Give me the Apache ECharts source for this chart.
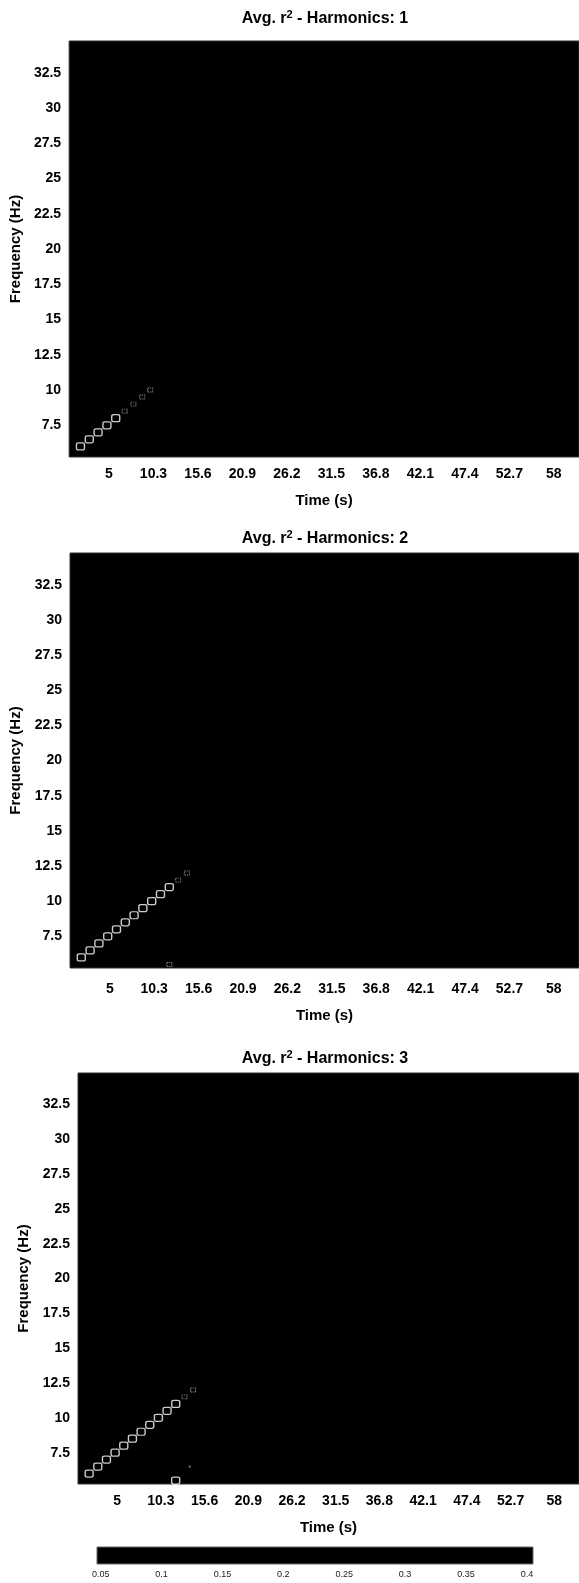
<!DOCTYPE html>
<html>
<head>
<meta charset="utf-8">
<title>Avg. r2 - Harmonics</title>
<script src="https://cdn.jsdelivr.net/npm/echarts@6/dist/echarts.min.js"></script>
<style>
  html, body { margin: 0; padding: 0; background: #fff; }
  #chart { width: 579px; height: 1583px; }
</style>
</head>
<body>
<div id="chart"></div>
<script>
// tick labels
const timeTicks = [5, 10.3, 15.6, 20.9, 26.2, 31.5, 36.8, 42.1, 47.4, 52.7, 58];
const freqTicks = [7.5, 10, 12.5, 15, 17.5, 20, 22.5, 25, 27.5, 30, 32.5];
const r2Ticks = [0.05, 0.1, 0.15, 0.2, 0.25, 0.3, 0.35, 0.4];

// cells that stand out from the dark background, per harmonic
const h1Time = [1.6, 2.65, 3.7, 4.75, 5.8, 6.85, 7.9, 8.95, 9.9];
const h1Freq = [6, 6.5, 7, 7.5, 8, 8.5, 9, 9.5, 10];
const h1R2   = [0.4, 0.4, 0.4, 0.4, 0.38, 0.2, 0.18, 0.2, 0.15];

const h2Time = [1.6, 2.65, 3.7, 4.75, 5.8, 6.85, 7.9, 8.95, 10.0, 11.05, 12.1, 13.15, 14.2, 12.1];
const h2Freq = [6, 6.5, 7, 7.5, 8, 8.5, 9, 9.5, 10, 10.5, 11, 11.5, 12, 5.5];
const h2R2   = [0.4, 0.4, 0.4, 0.4, 0.4, 0.4, 0.4, 0.4, 0.4, 0.38, 0.3, 0.18, 0.15, 0.25];

const h3Time = [1.6, 2.65, 3.7, 4.75, 5.8, 6.85, 7.9, 8.95, 10.0, 11.05, 12.1, 13.15, 14.2, 12.1, 13.8];
const h3Freq = [6, 6.5, 7, 7.5, 8, 8.5, 9, 9.5, 10, 10.5, 11, 11.5, 12, 5.5, 6.5];
const h3R2   = [0.4, 0.4, 0.4, 0.4, 0.4, 0.4, 0.4, 0.4, 0.4, 0.4, 0.38, 0.2, 0.15, 0.36, 0.1];

const font = '"Liberation Sans", Arial, sans-serif';

// panel boxes
const panels = [
  { top: 41, left: 68, right: 0, height: 416, n: 1, titleGap: 37, labelMargin: 10, nameGap: 36 },
  { top: 553, left: 70, right: 0, height: 415, n: 2, titleGap: 29, labelMargin: 14, nameGap: 40 },
  { top: 1073, left: 78, right: -12, height: 411, n: 3, titleGap: 29, labelMargin: 10, nameGap: 36 }
];

function cells(ts, fs, vs) {
  return ts.map(function (t, i) {
    const v = vs[i];
    let style;
    if (v >= 0.3) {
      style = { symbol: 'roundRect', symbolSize: [8, 7],
        itemStyle: { color: '#000', borderColor: '#fff', borderWidth: 1.3 } };
    } else if (v >= 0.15) {
      style = { symbol: 'rect', symbolSize: [5, 4],
        itemStyle: { color: '#000', borderColor: '#bbb', borderWidth: 1, borderType: 'dotted' } };
    } else {
      style = { symbol: 'rect', symbolSize: [2, 2],
        itemStyle: { color: '#999' } };
    }
    return Object.assign({ value: [t, fs[i], v] }, style);
  });
}

const chart = echarts.init(document.getElementById('chart'));

const grids = [], xAxes = [], yAxes = [], titles = [], series = [];
const panelData = [[h1Time, h1Freq, h1R2], [h2Time, h2Freq, h2R2], [h3Time, h3Freq, h3R2]];

panels.forEach(function (p, i) {
  grids.push({
    top: p.top, left: p.left, right: p.right, height: p.height,
    show: true, backgroundColor: '#000', borderColor: '#333', borderWidth: 1
  });
  xAxes.push({
    gridIndex: i, type: 'value', min: 0.25, max: 61,
    name: 'Time (s)', nameLocation: 'middle', nameGap: p.nameGap,
    nameTextStyle: { fontFamily: font, fontWeight: 'bold', fontSize: 15, color: '#000' },
    axisLine: { show: false }, axisTick: { show: false }, splitLine: { show: false },
    axisLabel: {
      customValues: timeTicks, margin: p.labelMargin,
      fontFamily: font, fontWeight: 'bold', fontSize: 14, color: '#000',
      formatter: function (v) { return String(v); }
    }
  });
  yAxes.push({
    gridIndex: i, type: 'value', min: 5.25, max: 34.75,
    name: 'Frequency (Hz)', nameLocation: 'middle', nameGap: 38,
    nameTextStyle: { fontFamily: font, fontWeight: 'bold', fontSize: 15, color: '#000' },
    axisLine: { show: false }, axisTick: { show: false }, splitLine: { show: false },
    axisLabel: {
      customValues: freqTicks, margin: 8,
      fontFamily: font, fontWeight: 'bold', fontSize: 14, color: '#000',
      formatter: function (v) { return String(v); }
    }
  });
  titles.push({
    text: '{a|Avg. r}{b|2}{a| - Harmonics: ' + p.n + '}',
    left: 320, textAlign: 'center', top: p.top - p.titleGap,
    textStyle: {
      rich: {
        a: { fontFamily: font, fontWeight: 'bold', fontSize: 16, color: '#000', lineHeight: 20 },
        b: { fontFamily: font, fontWeight: 'bold', fontSize: 11, color: '#000', lineHeight: 12, verticalAlign: 'top' }
      }
    }
  });
  series.push({
    type: 'scatter', xAxisIndex: i, yAxisIndex: i,
    data: cells(panelData[i][0], panelData[i][1], panelData[i][2]),
    silent: true
  });
});

// colour bar
grids.push({
  top: 1547, left: 97, right: 46, height: 17,
  show: true, backgroundColor: '#000', borderColor: '#666', borderWidth: 1
});
xAxes.push({
  gridIndex: 3, type: 'value', min: 0.047, max: 0.405,
  axisLine: { show: false }, axisTick: { show: false }, splitLine: { show: false },
  axisLabel: {
    customValues: r2Ticks, margin: 6,
    fontFamily: font, fontSize: 9, color: '#222',
    formatter: function (v) { return String(v); }
  }
});
yAxes.push({ gridIndex: 3, type: 'value', min: 0, max: 1, show: false });

chart.setOption({
  animation: false,
  backgroundColor: '#fff',
  title: titles,
  grid: grids,
  xAxis: xAxes,
  yAxis: yAxes,
  series: series
});
</script>
</body>
</html>
